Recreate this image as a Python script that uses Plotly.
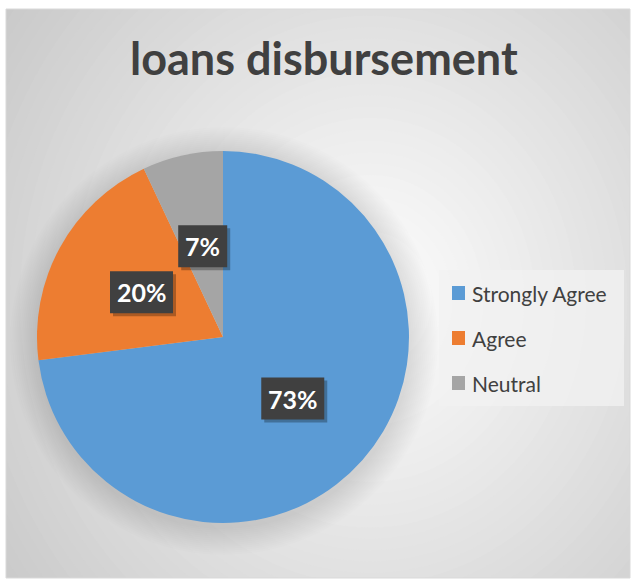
import math
import plotly.graph_objects as go

# Survey responses on loan disbursement
categories = ["Strongly Agree", "Agree", "Neutral"]
shares = [73, 20, 7]
colors = ["#5B9BD5", "#ED7D31", "#A5A5A5"]
chart_title = "loans disbursement"

W, H = 632, 581
FONT = "Lato"


def px(x):
    return x / W


def py(y):
    return 1 - y / H


def rect(x0, y0, x1, y1, fill, layer="below", line=None):
    return dict(type="rect", xref="paper", yref="paper", layer=layer,
                x0=px(x0), x1=px(x1), y0=py(y1), y1=py(y0),
                fillcolor=fill, line=line or dict(width=0))


# Pie placement (pixels)
pie_cx, pie_cy, pie_r = 223, 337, 186
dom_x = [px(pie_cx - pie_r), px(pie_cx + pie_r)]
dom_y = [py(pie_cy + pie_r), py(pie_cy - pie_r)]

shapes = []

# Radial background gradient inside the chart frame
g_cx, g_cy, g_ax, g_ay = 370, 300, 380, 420
rings = 48
d_max = 1.3
for i in range(rings, 0, -1):
    t = d_max * i / rings
    v = int(round(255 - 45 * t))
    shapes.append(dict(
        type="circle", xref="paper", yref="paper", layer="below",
        x0=px(g_cx - g_ax * t), x1=px(g_cx + g_ax * t),
        y0=py(g_cy + g_ay * t), y1=py(g_cy - g_ay * t),
        fillcolor=f"rgb({v},{v},{v})", line=dict(width=0),
    ))

# Soft shadow around the pie
for k in range(14, 0, -1):
    r = pie_r + 2 * k
    shapes.append(dict(
        type="circle", xref="paper", yref="paper", layer="below",
        x0=px(pie_cx + 1 - r), x1=px(pie_cx + 1 + r),
        y0=py(pie_cy + 4 + r), y1=py(pie_cy + 4 - r),
        fillcolor="rgba(0,0,0,0.009)", line=dict(width=0),
    ))

# White page around the frame
fx0, fy0, fx1, fy1 = 6, 9, 630, 578
for (a, b, c, d) in [(0, 0, W, fy0), (0, fy1, W, H), (0, 0, fx0, H), (fx1, 0, W, H)]:
    shapes.append(rect(a, b, c, d, "white"))
shapes.append(rect(fx0, fy0, fx1, fy1, "rgba(0,0,0,0)",
                   line=dict(color="#d9d9d9", width=1)))

# Legend panel
shapes.append(rect(439, 270, 624, 406, "rgba(242,242,242,0.75)"))

annotations = []
row_y = [293, 338, 383]
for name, col, yy in zip(categories, colors, row_y):
    shapes.append(rect(452, yy - 7, 465, yy + 7, col, layer="above"))
    annotations.append(dict(
        x=px(470), y=py(yy), xref="paper", yref="paper",
        xanchor="left", yanchor="middle", showarrow=False,
        text=name, font=dict(family=FONT, size=21, color="#404040"),
    ))

# Percentage labels in dark boxes at half radius along each slice bisector
total = sum(shares)
cum = 0
for val in shares:
    theta = 2 * math.pi * (cum + val / 2) / total
    cum += val
    lx = pie_cx + 0.5 * pie_r * math.sin(theta)
    ly = pie_cy - 0.5 * pie_r * math.cos(theta)
    label = f"{round(100 * val / total)}%"
    bw = 14 * len(label) + 21
    bh = 42
    # drop shadow, then the box itself
    shapes.append(rect(lx - bw / 2 + 3, ly - bh / 2 + 3, lx + bw / 2 + 3, ly + bh / 2 + 3,
                       "rgba(0,0,0,0.28)", layer="above"))
    shapes.append(rect(lx - bw / 2, ly - bh / 2, lx + bw / 2, ly + bh / 2,
                       "#404040", layer="above"))
    annotations.append(dict(
        x=px(lx), y=py(ly), xref="paper", yref="paper",
        xanchor="center", yanchor="middle", showarrow=False, text=label,
        font=dict(family=FONT, size=25, color="white", weight="bold"),
    ))

# Chart title
annotations.append(dict(
    x=px(324), y=py(58), xref="paper", yref="paper",
    xanchor="center", yanchor="middle", showarrow=False,
    text=chart_title,
    font=dict(family=FONT, size=45, color="#404040", weight="bold"),
))

fig = go.Figure(go.Pie(
    labels=categories,
    values=shares,
    marker=dict(colors=colors, line=dict(width=0)),
    sort=False,
    direction="clockwise",
    rotation=0,
    textinfo="none",
    hoverinfo="label+percent",
    domain=dict(x=dom_x, y=dom_y),
    showlegend=False,
))

fig.update_layout(
    width=W, height=H,
    margin=dict(l=0, r=0, t=0, b=0),
    paper_bgcolor="white",
    plot_bgcolor="white",
    shapes=shapes,
    annotations=annotations,
    showlegend=False,
)

fig.write_html("out.html")
